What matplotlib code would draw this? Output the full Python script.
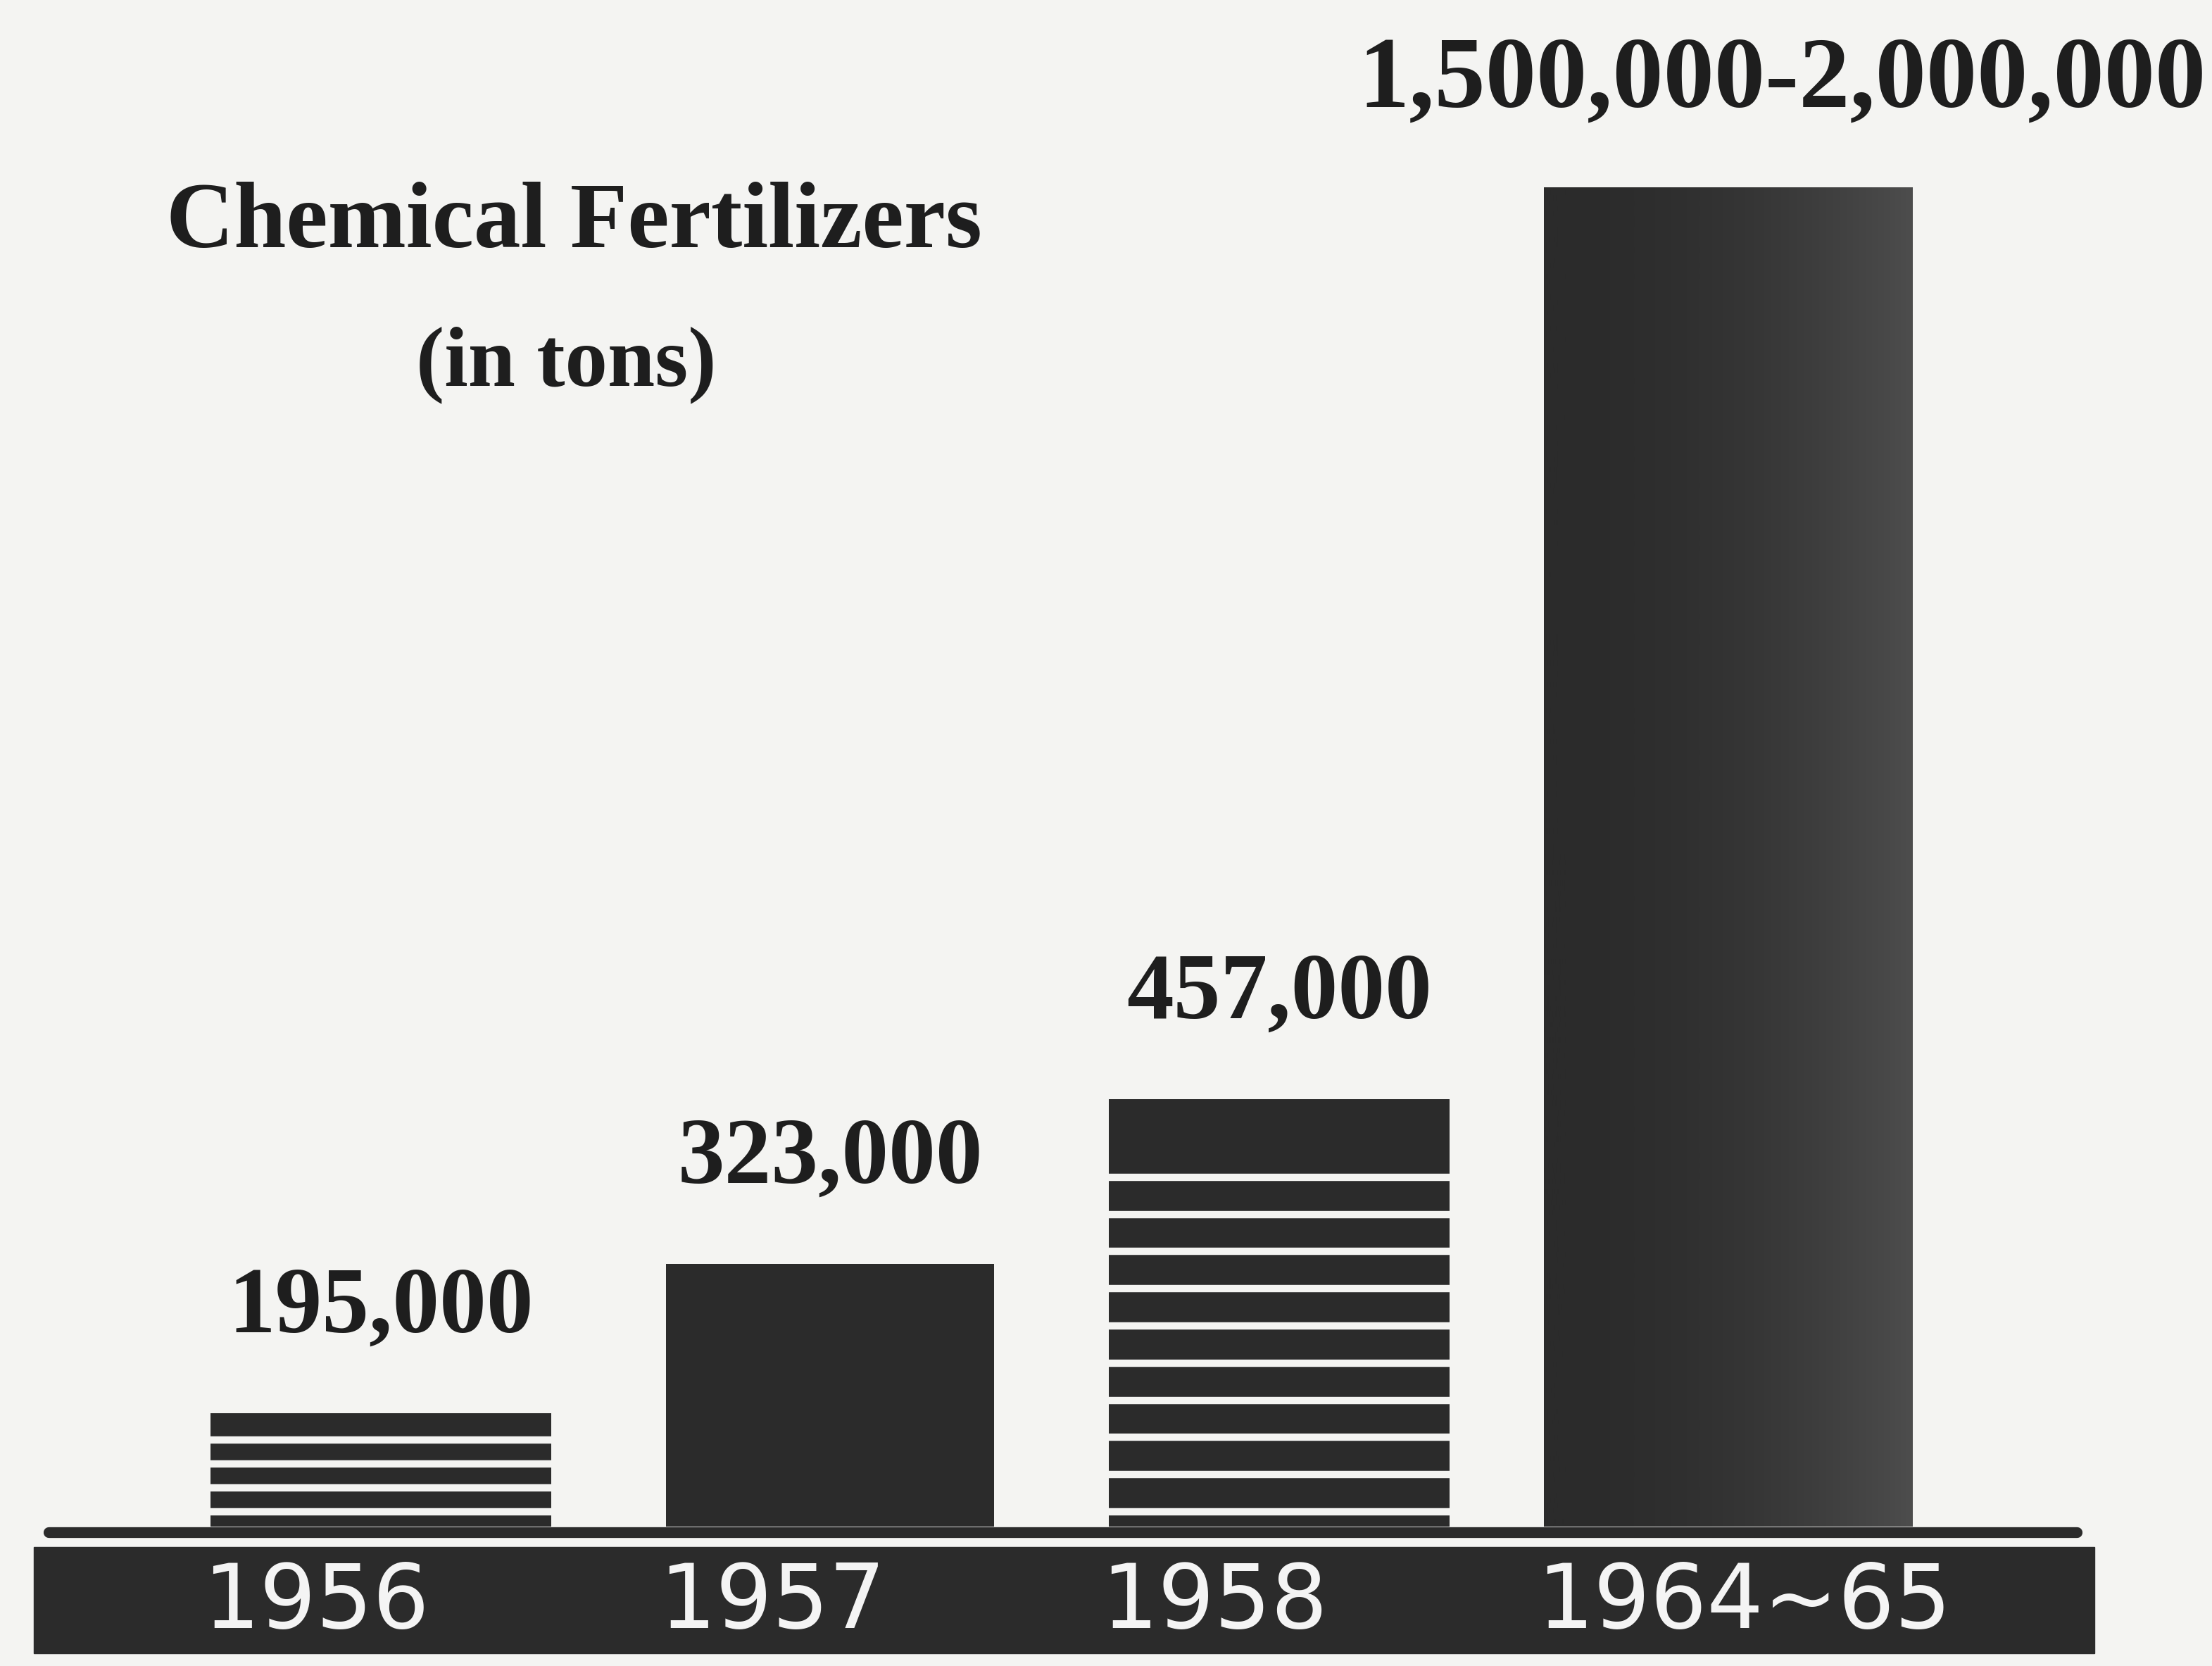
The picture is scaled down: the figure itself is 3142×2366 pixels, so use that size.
import matplotlib
matplotlib.use("Agg")
import matplotlib.pyplot as plt
import numpy as np

# data (the drawing is not to scale, so bar heights are
# the drawn heights, in pixels above the base line)
years = ["1956", "1957", "1958", "1964~65"]
value_labels = ["195,000", "323,000", "457,000", "1,500,000-2,000,000"]
drawn_height = [161, 373, 607, 1902]

# styling
paper = "#f4f4f2"
ink = "#2b2b2b"
serif = ["Liberation Serif", "DejaVu Serif"]
widths = [0.76, 0.73, 0.76, 0.82]
stripes = [(4, 34), (0, 0), (10, 52.8), (0, 0)]   # (count, gap) of white lines
label_size = [96, 96, 96, 104]
label_dx = [0, 0, 0, 0.12]

fig = plt.figure(figsize=(31.42, 23.66), dpi=100)
fig.patch.set_facecolor(paper)
ax = fig.add_axes([0, 0, 1, 1])
ax.set_facecolor(paper)
ax.set_xlim(-0.848, 4.077)
ax.set_ylim(-198, 2168)
ax.axis("off")

x = np.arange(len(years))
bars = ax.bar(x, drawn_height, width=widths, color=ink, zorder=3)

# lighter right side of the big bar, like the printed original
big = bars[3]
grad = np.linspace(0, 1, 256).reshape(1, -1) ** 2
im = ax.imshow(grad, cmap=matplotlib.colors.LinearSegmentedColormap.from_list(
    "g", [ink, "#4d4d4d"]), aspect="auto", zorder=3.5,
    extent=[big.get_x(), big.get_x() + big.get_width(), 0, big.get_height()])
im.set_clip_path(big)

# white horizontal stripes on 1956 and 1958
for bar, (n, gap) in zip(bars, stripes):
    if n:
        ys = 21 + gap * np.arange(n)
        ax.hlines(ys, bar.get_x(), bar.get_x() + bar.get_width(),
                  colors=paper, linewidth=7.5, zorder=4)

# base line and the dark band carrying the years
ax.axhline(-7.5, xmin=0.022, xmax=0.939, color=ink, linewidth=11,
           solid_capstyle="round", zorder=3)
ax.axhspan(-180, -29, xmin=0.0153, xmax=0.947, color=ink, zorder=2)

for bar, lab in zip(bars, years):
    ax.text(bar.get_x() - 0.016, -144, lab, ha="left", va="baseline",
            color="#f4f4f4", fontsize=91, family="DejaVu Sans", zorder=5)

for bar, lab, fs, dx in zip(bars, value_labels, label_size, label_dx):
    ax.text(bar.get_x() + bar.get_width() / 2 + dx, bar.get_height() + 115,
            lab, ha="center", va="baseline", color="#1e1e1e", fontsize=fs,
            fontweight="bold", family=serif, zorder=5)

fig.text(0.0751, 1 - 351 / 2366, "Chemical Fertilizers", ha="left",
         va="baseline", fontsize=96, fontweight="bold", family=serif,
         color="#1e1e1e")
fig.text(0.188, 1 - 547 / 2366, "(in tons)", ha="left", va="baseline",
         fontsize=87, fontweight="bold", family=serif, color="#1e1e1e")

fig.savefig("out.png", dpi=100, facecolor=paper)
